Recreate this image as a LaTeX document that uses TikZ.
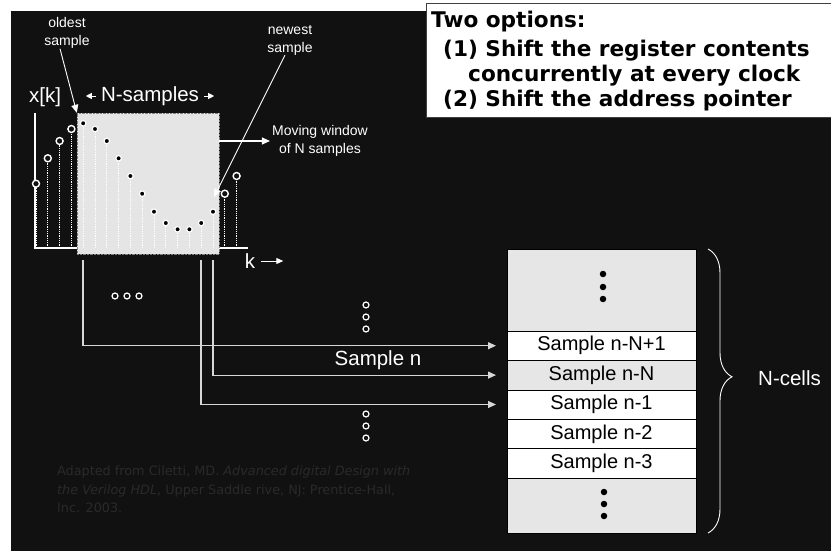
\documentclass[tikz,border=0pt]{standalone}
\usepackage{fontspec}
\setmainfont{Liberation Sans}
\newfontfamily\tahoma{DejaVu Sans}
\usetikzlibrary{arrows.meta,positioning,decorations.pathreplacing}
\definecolor{slidebg}{RGB}{17,17,17}
\definecolor{wingray}{RGB}{229,229,229}
\definecolor{cellgray}{RGB}{230,230,230}
\definecolor{citegray}{RGB}{42,42,42}
\definecolor{tapgray}{RGB}{215,215,215}
\tikzset{>={Triangle[length=8pt,width=7pt]}}
\tikzset{
  lbl/.style={text=white, font=\fontsize{20.5}{24}\selectfont, inner sep=0pt},
  small/.style={text=white, font=\fontsize{14}{18}\selectfont, align=center, inner sep=0pt},
  cell/.style={draw=black, fill=white, minimum width=189pt, minimum height=29.4pt,
    inner sep=0pt, outer sep=0pt, font=\fontsize{20}{24}\selectfont},
  bigcell/.style={cell, fill=cellgray},
  opendot/.style={circle, draw=white, fill=slidebg, line width=1.4pt, minimum size=7pt, inner sep=0pt},
  fulldot/.style={circle, draw=white, fill=black, line width=1.2pt, minimum size=5.5pt, inner sep=0pt},
  memdot/.style={circle, fill=black, minimum size=6.5pt, inner sep=0pt},
  stem/.style={white, densely dotted, line width=0.8pt},
  tap/.style={tapgray, line width=1.2pt, ->, shorten >=11pt},
  wline/.style={white, line width=0.9pt},
}

\begin{document}
\begin{tikzpicture}[x=1pt, y=-1pt]
    \useasboundingbox (0,0) rectangle (831,551);
    \fill[slidebg] (11,11) rectangle (831,551);
    % the two options
    \node[draw=black!75, fill=white, anchor=north west, minimum width=407pt, minimum height=114pt,
      inner sep=0pt, outer sep=0pt] (optbox) at (426,3) {};
    \node[anchor=north west, align=left, inner sep=0pt,
      font=\tahoma\bfseries\fontsize{21.6}{25}\selectfont] (opts) at (431,11)
      {Two options:\\[4pt]\hspace*{12pt}(1) Shift the register contents\\
       \hspace*{37pt}concurrently at every clock\\
       \hspace*{12pt}(2) Shift the address pointer};
    % signal x[k]
    \draw[white, line width=1.8pt] (35,113) -- (35,248) -- (248,248);
    \node[lbl, anchor=west] (xk) at (29,97) {x[k]};
    \node[fill=wingray, draw=gray, densely dotted, minimum width=142pt, minimum height=141pt,
      inner sep=0pt] (win) at (148,183.5) {};
    \foreach \y [count=\i from 0] in {183.7,158.3,141,129,123.3,129,141,158.3,176,193.7,211.7,223,229.3,229.3,223,211.7,193.7,176}
    \draw[stem] ({36+11.8*\i},248) -- ({36+11.8*\i},\y);
    \foreach \i/\y in {0/183.7,1/158.3,2/141,3/129,16/193.7,17/176}
    \node[opendot] (s\i) at ({36+11.8*\i},\y) {};
    \foreach \i/\y in {4/123.3,5/129,6/141,7/158.3,8/176,9/193.7,10/211.7,11/223,12/229.3,13/229.3,14/223,15/211.7}
    \node[fulldot] (s\i) at ({36+11.8*\i},\y) {};
    \node[lbl] (nsamp) at (150,96) {N-samples};
    \draw[wline, ->, >={Triangle[length=6pt,width=6pt]}] ([xshift=-5pt]nsamp.west) -- ++(-10,0);
    \draw[wline, ->, >={Triangle[length=6pt,width=6pt]}] ([xshift=5pt]nsamp.east) -- ++(10,0);
    \node[lbl] (kk) at (250,261) {k};
    \draw[wline, ->, >={Triangle[length=7pt,width=6pt]}] ([xshift=6pt]kk.east) -- ++(22,0);
    % labels round the window
    \node[small] (old) at (67,33) {oldest\\sample};
    \draw[wline, ->] ([xshift=-7pt]old.south) -- (win.north west);
    \node[small] (new) at (290,40) {newest\\sample};
    \coordinate (newtip) at (214,197);
    \draw[wline, ->] ([xshift=-5pt]new.south) -- (newtip);
    \node[small] (mov) at (320,141) {Moving window\\of N samples};
    \draw[wline, line width=1.2pt, ->] (win.east |- mov.west) -- ([xshift=-2pt]mov.west);
    % memory cells
    \node[bigcell, minimum height=82pt] (c0) at (601.5,290) {};
    \node[cell, below=0pt of c0] (c1) {Sample n-N+1};
    \node[cell, fill=cellgray, below=0pt of c1] (c2) {Sample n-N};
    \node[cell, below=0pt of c2] (c3) {Sample n-1};
    \node[cell, below=0pt of c3] (c4) {Sample n-2};
    \node[cell, below=0pt of c4] (c5) {Sample n-3};
    \node[bigcell, minimum height=55pt, below=0pt of c5] (c6) {};
    \foreach \y in {274,287,299} \node[memdot] (mt\y) at (603,\y) {};
    \foreach \y in {492,504,516} \node[memdot] (mb\y) at (604,\y) {};
    \draw[wline, decorate, decoration={brace, amplitude=24pt, aspect=0.45}]
      ([xshift=12pt]c0.north east) -- ([xshift=12pt]c6.south east);
    \node[lbl, anchor=west] (ncell) at (758,378) {N-cells};
    % taps from the window
    \coordinate (tapA) at (83,260);
    \coordinate (tapB) at (213,260);
    \coordinate (tapC) at (201,260);
    \draw[tap] (tapA) |- (c1.west);
    \draw[tap] (tapB) |- (c2.west);
    \draw[tap] (tapC) |- (c3.west);
    \node[lbl] (smpn) at (378,360) {Sample n};
    \foreach \x in {115,127,139} \node[opendot, minimum size=6pt, line width=1.2pt] (h\x) at (\x,296) {};
    \foreach \y in {305,317,329,414,426,438} \node[opendot, minimum size=6pt, line width=1.2pt] (v\y) at (366,\y) {};
    % source
    \node[anchor=north west, align=left, inner sep=0pt, text=citegray,
      font=\tahoma\fontsize{12.8}{18.5}\selectfont] (cite) at (57,466)
      {Adapted from Ciletti, MD. \textit{Advanced digital Design with}\\
       \textit{the Verilog HDL}, Upper Saddle rive, NJ: Prentice-Hall,\\
       Inc. 2003.};
\end{tikzpicture}
\end{document}
